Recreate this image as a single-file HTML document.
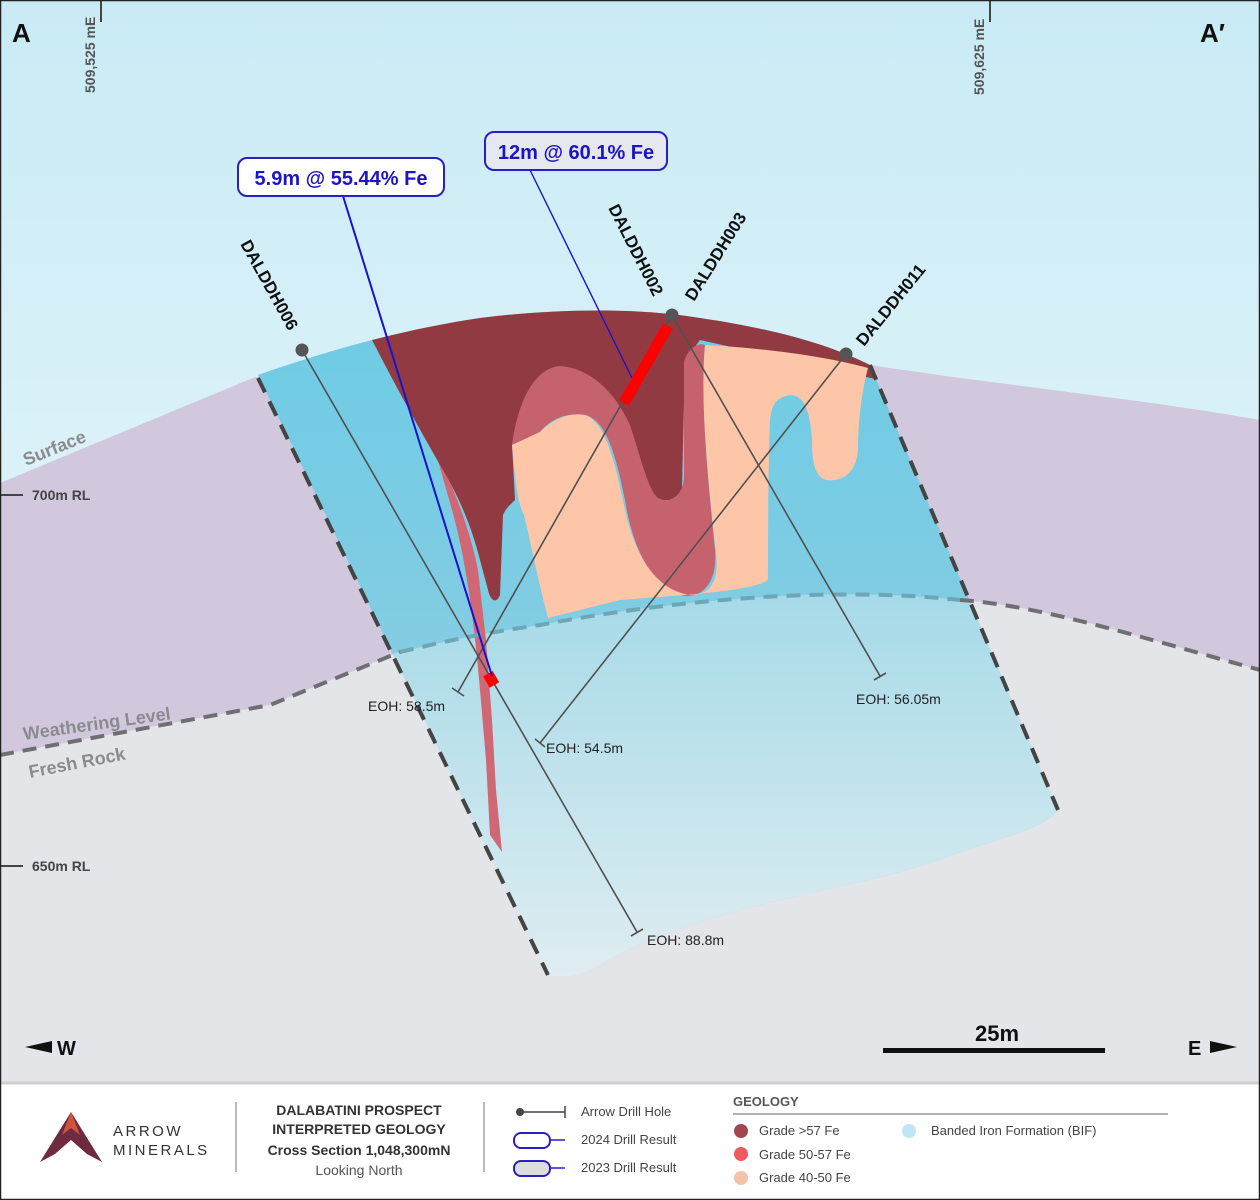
<!DOCTYPE html>
<html><head><meta charset="utf-8"><style>
html,body{margin:0;padding:0;background:#fff}
svg{display:block}
text{font-family:"Liberation Sans",sans-serif}
</style></head><body>
<svg width="1260" height="1200" viewBox="0 0 1260 1200" xmlns="http://www.w3.org/2000/svg">
<defs>
<linearGradient id="sky" x1="0" y1="0" x2="0" y2="1"><stop offset="0" stop-color="#c9ebf5"/><stop offset="1" stop-color="#f2fafc"/></linearGradient>
<linearGradient id="bifU" x1="0" y1="0" x2="0" y2="1"><stop offset="0" stop-color="#6ccbe4"/><stop offset="1" stop-color="#9acfe2"/></linearGradient>
<linearGradient id="bifL" x1="0" y1="0" x2="0" y2="1"><stop offset="0" stop-color="#a6dae8"/><stop offset="1" stop-color="#e3eef2"/></linearGradient>
<clipPath id="sec"><path d="M258,375 C330,350 400,330 480,318 C560,308 640,308 700,318 C780,330 830,345 870,365 L1058,810 C1045,830 990,840 940,860 C880,880 820,890 760,905 C700,920 640,940 600,965 C580,978 560,978 548,975 Z"/></clipPath>
</defs>
<rect x="0" y="0" width="1260" height="1082" fill="url(#sky)"/>
<path d="M0,483 L255,377 L870,365 C1000,385 1150,400 1260,420 L1260,670 C1150,640 1040,605 960,600 C850,588 700,595 540,625 C470,635 430,645 400,652 L270,705 L0,755 Z" fill="#d1c8de"/>
<path d="M0,755 L270,705 L400,652 C430,645 470,635 540,625 C700,595 850,588 960,600 C1040,605 1150,640 1260,670 L1260,1082 L0,1082 Z" fill="#e4e5e8"/>
<g clip-path="url(#sec)">
<rect x="200" y="300" width="900" height="700" fill="url(#bifU)"/>
<path d="M300,680 L400,652 C430,645 470,635 540,625 C700,595 850,588 960,600 C1040,605 1100,630 1100,630 L1100,1000 L300,1000 Z" fill="url(#bifL)"/>
<path d="M435,450 C455,490 470,530 478,570 L486,640 L492,720 L496,790 L502,852 L490,835 L486,760 L480,690 C474,620 466,560 452,510 Z" fill="#cf6874"/>
<path d="M368,290 L900,290 L880,380 L700,340 L685,360 L682,488 C676,502 662,505 650,492 C640,470 630,430 612,400 C595,378 575,365 555,368 C535,380 520,410 512,445 L515,500 C510,505 506,508 503,515 L500,595 C496,605 490,600 488,590 L480,560 C470,520 455,490 440,465 C420,430 395,385 372,340 Z" fill="#923a42"/>
<path d="M512,445 C518,400 535,368 560,366 C590,368 615,392 630,425 C640,455 648,490 658,498 C672,505 684,495 684,475 L684,362 C688,348 698,342 705,345 C700,400 708,480 715,550 C718,585 700,600 680,595 C650,585 632,545 625,500 C615,450 605,420 585,415 C565,412 550,420 540,432 Z" fill="#c6626e"/>
<path d="M512,445 L540,432 C552,420 568,412 585,415 C605,422 615,460 625,510 C635,555 655,590 690,595 C715,595 720,575 715,545 C708,480 700,400 705,345 C760,348 820,355 868,368 C862,390 858,420 858,450 C856,475 840,482 826,480 C814,476 812,460 812,440 C810,410 804,395 790,395 C775,398 772,405 770,420 C768,470 768,540 768,580 C750,592 680,595 620,600 L548,618 C538,580 530,540 524,515 C518,505 515,480 512,445 Z" fill="#fdc6a9"/>
</g>
<path d="M258,378 L548,975" stroke="#444" stroke-width="4" stroke-dasharray="16,10" fill="none"/>
<path d="M870,365 L1058,810" stroke="#444" stroke-width="4" stroke-dasharray="16,10" fill="none"/>
<path d="M0,755 L270,705 L400,652" stroke="#6f6f73" stroke-width="4" stroke-dasharray="14,9" fill="none"/>
<path d="M400,652 C430,645 470,635 540,625 C700,595 850,588 960,600" stroke="#6ea6b5" stroke-width="4" stroke-dasharray="14,9" fill="none"/>
<path d="M960,600 C1040,605 1150,640 1260,670" stroke="#6f6f73" stroke-width="4" stroke-dasharray="14,9" fill="none"/>
<g stroke="#505050" stroke-width="1.6" fill="none">
<line x1="302" y1="350" x2="637" y2="932"/><line x1="631" y1="936" x2="643" y2="929"/>
<line x1="672" y1="315" x2="458" y2="692"/><line x1="452" y1="688" x2="464" y2="696"/>
<line x1="672" y1="315" x2="880" y2="676"/><line x1="874" y1="680" x2="886" y2="673"/>
<line x1="846" y1="354" x2="540" y2="743"/><line x1="535" y1="739" x2="545" y2="747"/>
</g>
<line x1="668" y1="326" x2="624" y2="403" stroke="#ff0000" stroke-width="11"/>
<rect x="486" y="673" width="11" height="13" fill="#ff0000" transform="rotate(-30 491 680)"/>
<g fill="#555"><circle cx="302" cy="350" r="6.5"/><circle cx="672" cy="315" r="6.5"/><circle cx="846" cy="354" r="6.5"/></g>
<line x1="343" y1="196" x2="492" y2="676" stroke="#1a10d0" stroke-width="2"/>
<line x1="530" y1="170" x2="632" y2="378" stroke="#1a10d0" stroke-width="1.4"/>
<rect x="238" y="158" width="206" height="38" rx="9" fill="#fff" stroke="#2a1fc0" stroke-width="2"/>
<text x="341" y="185" font-size="20" font-weight="bold" fill="#1d14c4" text-anchor="middle">5.9m @ 55.44% Fe</text>
<rect x="485" y="132" width="182" height="38" rx="9" fill="#e6e8ef" stroke="#2a1fc0" stroke-width="2"/>
<text x="576" y="159" font-size="20" font-weight="bold" fill="#1d14c4" text-anchor="middle">12m @ 60.1% Fe</text>
<g font-size="17" font-weight="bold" fill="#111">
<text transform="translate(240,244) rotate(61)">DALDDH006</text>
<text transform="translate(608,208) rotate(63)">DALDDH002</text>
<text transform="translate(694,302) rotate(-58)">DALDDH003</text>
<text transform="translate(864,347) rotate(-51)">DALDDH011</text>
</g>
<g font-size="14" fill="#222">
<text x="368" y="711">EOH: 58.5m</text>
<text x="546" y="753">EOH: 54.5m</text>
<text x="856" y="704">EOH: 56.05m</text>
<text x="647" y="945">EOH: 88.8m</text>
</g>
<text x="12" y="42" font-size="26" font-weight="bold" fill="#111">A</text>
<text x="1200" y="42" font-size="26" font-weight="bold" fill="#111">A′</text>
<line x1="101" y1="0" x2="101" y2="22" stroke="#444" stroke-width="2"/>
<text transform="translate(95,93) rotate(-90)" font-size="14" font-weight="bold" fill="#555">509,525 mE</text>
<line x1="990" y1="0" x2="990" y2="22" stroke="#444" stroke-width="2"/>
<text transform="translate(984,95) rotate(-90)" font-size="14" font-weight="bold" fill="#555">509,625 mE</text>
<line x1="0" y1="495" x2="23" y2="495" stroke="#444" stroke-width="2"/>
<text x="32" y="500" font-size="14" font-weight="bold" fill="#444">700m RL</text>
<line x1="0" y1="866" x2="23" y2="866" stroke="#444" stroke-width="2"/>
<text x="32" y="871" font-size="14" font-weight="bold" fill="#444">650m RL</text>
<text transform="translate(26,466) rotate(-22)" font-size="18" font-weight="bold" fill="#8a8a90">Surface</text>
<text transform="translate(24,740) rotate(-8)" font-size="18" font-weight="bold" fill="#8a8a90">Weathering Level</text>
<text transform="translate(30,778) rotate(-11)" font-size="18" font-weight="bold" fill="#8a8a90">Fresh Rock</text>
<polygon points="25,1047 52,1041 52,1053" fill="#111"/>
<text x="57" y="1055" font-size="20" font-weight="bold" fill="#111">W</text>
<text x="1188" y="1055" font-size="20" font-weight="bold" fill="#111">E</text>
<polygon points="1237,1047 1210,1041 1210,1053" fill="#111"/>
<rect x="883" y="1048" width="222" height="5" fill="#111"/>
<text x="997" y="1041" font-size="22" font-weight="bold" fill="#111" text-anchor="middle">25m</text>
<rect x="0" y="1082" width="1260" height="118" fill="#fff"/>
<line x1="0" y1="1083" x2="1260" y2="1083" stroke="#cfcfcf" stroke-width="3"/>
<rect x="0.5" y="0.5" width="1259" height="1199" fill="none" stroke="#222" stroke-width="1.5"/>
<path d="M71,1112 L40,1162 L55,1154 L71,1140 L87,1154 L102,1162 Z" fill="#6e2a3e"/>
<path d="M71,1112 L62,1135 L71,1128 L80,1135 Z" fill="#d0543a"/>
<text x="113" y="1136" font-size="15" fill="#333" letter-spacing="2.5">ARROW</text>
<text x="113" y="1155" font-size="15" fill="#333" letter-spacing="2.5">MINERALS</text>
<line x1="236" y1="1102" x2="236" y2="1172" stroke="#777" stroke-width="1"/>
<g font-size="14" fill="#333" text-anchor="middle" font-weight="bold">
<text x="359" y="1115">DALABATINI PROSPECT</text>
<text x="359" y="1134">INTERPRETED GEOLOGY</text>
<text x="359" y="1155">Cross Section 1,048,300mN</text>
</g>
<text x="359" y="1175" font-size="14" fill="#555" text-anchor="middle">Looking North</text>
<line x1="484" y1="1102" x2="484" y2="1172" stroke="#777" stroke-width="1"/>
<circle cx="520" cy="1112" r="4" fill="#444"/><line x1="520" y1="1112" x2="565" y2="1112" stroke="#444" stroke-width="1.5"/><line x1="565" y1="1106" x2="565" y2="1118" stroke="#444" stroke-width="1.5"/>
<text x="581" y="1116" font-size="13" fill="#444">Arrow Drill Hole</text>
<rect x="514" y="1133" width="36" height="15" rx="7" fill="#fff" stroke="#2a1fc0" stroke-width="2"/><line x1="550" y1="1140" x2="565" y2="1140" stroke="#2a1fc0" stroke-width="1.5"/>
<text x="581" y="1144" font-size="13" fill="#444">2024 Drill Result</text>
<rect x="514" y="1161" width="36" height="15" rx="7" fill="#dcdde2" stroke="#2a1fc0" stroke-width="2"/><line x1="550" y1="1168" x2="565" y2="1168" stroke="#2a1fc0" stroke-width="1.5"/>
<text x="581" y="1172" font-size="13" fill="#444">2023 Drill Result</text>
<text x="733" y="1106" font-size="13" font-weight="bold" fill="#555">GEOLOGY</text>
<line x1="733" y1="1114" x2="1168" y2="1114" stroke="#999" stroke-width="1.5"/>
<circle cx="741" cy="1131" r="7" fill="#a0484f"/><text x="759" y="1135" font-size="13" fill="#444">Grade &gt;57 Fe</text>
<circle cx="741" cy="1154" r="7" fill="#ef5a5e"/><text x="759" y="1159" font-size="13" fill="#444">Grade 50-57 Fe</text>
<circle cx="741" cy="1178" r="7" fill="#f4c3ab"/><text x="759" y="1182" font-size="13" fill="#444">Grade 40-50 Fe</text>
<circle cx="909" cy="1131" r="7" fill="#bfe6f2"/><text x="931" y="1135" font-size="13" fill="#444">Banded Iron Formation (BIF)</text>
</svg>
</body></html>
